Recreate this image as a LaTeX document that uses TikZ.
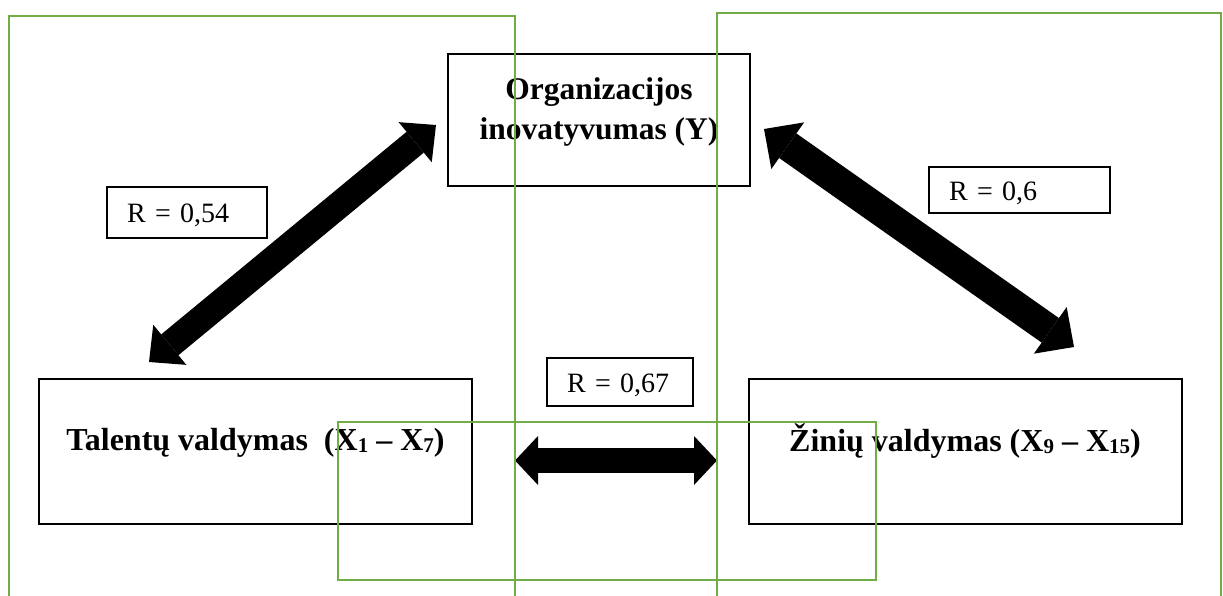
\documentclass[tikz,border=0pt]{standalone}
\usepackage{fontspec}
\setmainfont{Liberation Serif}
\usetikzlibrary{arrows.meta}
\definecolor{framegreen}{HTML}{70AD47}
% smaller, slightly lowered digits used as indices
\newcommand\lowdig[1]{\raisebox{-2pt}{\fontsize{21}{21}\selectfont #1}}

\begin{document}
\begin{tikzpicture}[x=1pt,y=-1pt,
  varbox/.style={draw=black, line width=2.5pt, fill=white, inner sep=0pt},
  vartext/.style={font=\bfseries\fontsize{32}{40}\selectfont, inner sep=0pt, align=center},
  rbox/.style={draw=black, line width=1.2pt, fill=white, inner xsep=20pt, inner ysep=0pt,
    align=left, text height=20pt, text depth=0pt, font=\fontsize{28}{28}\selectfont},
  link/.style n args={3}{line width=#1,
    arrows={Triangle[length=#3,width=#2,line width=0pt]-Triangle[length=#3,width=#2,line width=0pt]}},
  frame/.style={draw=framegreen, line width=2.5pt}
]
\useasboundingbox (0,0) rectangle (1223,595);

% variable boxes
\node[varbox, minimum width=302pt, minimum height=132pt] (org) at (599,120) {};
\node[varbox, minimum width=433pt, minimum height=145pt] (tal) at (255.5,451.5) {};
\node[varbox, minimum width=433pt, minimum height=145pt] (zin) at (965.5,451.5) {};

\node[vartext, font=\bfseries\fontsize{31.5}{40}\selectfont] (orgtxt) at (599,112)
  {Organizacijos\\inovatyvumas (Y)};
\node[vartext, anchor=base] (taltxt) at (255.5,450)
  {Talentų valdymas~~(X\lowdig{1} – X\lowdig{7})};
\node[vartext, anchor=base] (zintxt) at (965,451)
  {Žinių valdymas (X\lowdig{9} – X\lowdig{15})};

% correlation arrows
\coordinate (tl) at (149,362);
\coordinate (ol) at (436,125);
\coordinate (or) at (764,129);
\coordinate (zr) at (1074,347);
\coordinate (hl) at (515,460.5);
\coordinate (hr) at (717,460.5);
\draw[link={27pt}{52pt}{27pt}] (tl) -- (ol);
\draw[link={30pt}{57pt}{29pt}] (or) -- (zr);
\draw[link={25pt}{49pt}{23pt}] (hl) -- (hr);

% correlation coefficients
\node[rbox, text width=120pt, minimum height=51pt] (r1) at (187,212.5) {R = 0,54};
\node[rbox, text width=141pt, minimum height=46pt] (r2) at (1019.5,190) {R = 0,6};
\node[rbox, text width=106pt, minimum height=48pt] (r3) at (620,382) {R = 0,67};

% green frames
\draw[frame] (9,598) -- (9,16) -- (515,16) -- (515,598);
\draw[frame] (717,598) -- (717,13) -- (1221,13) -- (1221,598);
\draw[frame] (338,422) rectangle (876,580);
\end{tikzpicture}
\end{document}
